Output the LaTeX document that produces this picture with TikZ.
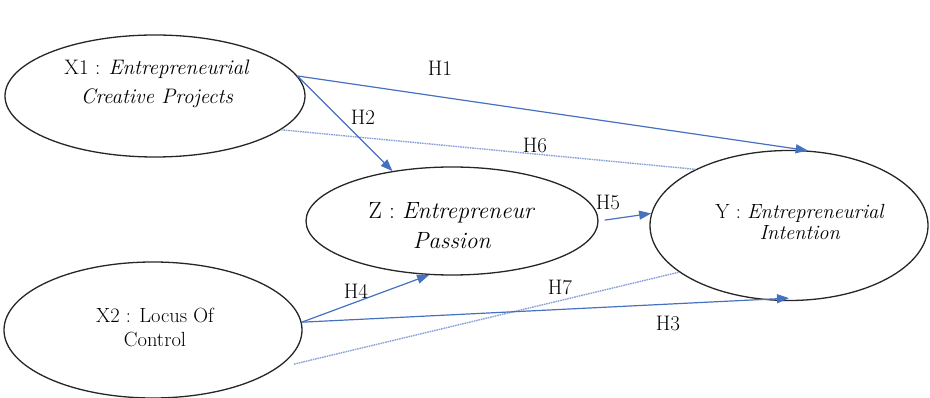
\documentclass[tikz,border=0pt]{standalone}
\usepackage{fontspec}
\usetikzlibrary{shapes.geometric,arrows.meta}
\definecolor{arrblue}{HTML}{4670C0}
\definecolor{dashblue}{HTML}{8AA2D8}
\tikzset{
  oval/.style={ellipse,draw=black!85,line width=1.3pt,inner sep=0pt},
  txt/.style={align=center,inner sep=0pt},
  hyp/.style={inner sep=0pt,font=\fontsize{21}{24}\selectfont},
  solidarr/.style={draw=arrblue,line width=1.2pt,-{Triangle[length=12pt,width=9pt]}},
  dotline/.style={draw=dashblue,line width=1.4pt,dash pattern=on 1.6pt off 0.8pt},
}
\begin{document}
\begin{tikzpicture}[x=1pt,y=-1pt]
\useasboundingbox (0,0) rectangle (930,398);
% ellipses
\node[oval,minimum width=300pt,minimum height=122pt] (X1) at (155,96) {};
\node[oval,minimum width=298pt,minimum height=136pt] (X2) at (153,330) {};
\node[oval,minimum width=292pt,minimum height=108pt] (Z) at (452,221) {};
\node[oval,minimum width=278pt,minimum height=150pt] (Y) at (789,225.5) {};
% texts
\node[txt,font=\fontsize{21}{29}\selectfont] (tX1) at (157,84) {X1 : \textit{Entrepreneurial}\\\textit{Creative Projects}};
\node[txt,font=\fontsize{20.5}{24}\selectfont] (tX2) at (155,327) {X2 : Locus Of\\Control};
\node[txt,font=\fontsize{23.5}{30}\selectfont] (tZ) at (452,226) {Z : \textit{Entrepreneur}\\\textit{Passion}};
\node[txt,font=\fontsize{20.5}{21}\selectfont] (tY) at (800,222) {Y : \textit{Entrepreneurial}\\\textit{Intention}};
% connectors
\draw[dotline] (X1.-15) -- (Y.149);
\draw[dotline,shorten <=17pt] (X2.-17) -- (Y.203);
\draw[solidarr] (X1.8) -- (Y.76);
\draw[solidarr] (X1.8) -- (Z.140);
\draw[solidarr,shorten <=6pt] (Z.east) -- (Y.175);
\draw[solidarr] (X2.3) -- (Z.247);
\draw[solidarr] (X2.3) -- ([yshift=3pt]Y.270);
% labels
\node[hyp] (h1) at (440,68) {H1};
\node[hyp] (h2) at (363,117) {H2};
\node[hyp] (h6) at (535,145) {H6};
\node[hyp] (h5) at (608,202) {H5};
\node[hyp] (h4) at (356,291) {H4};
\node[hyp] (h7) at (560,287) {H7};
\node[hyp] (h3) at (668,323) {H3};
\end{tikzpicture}
\end{document}
